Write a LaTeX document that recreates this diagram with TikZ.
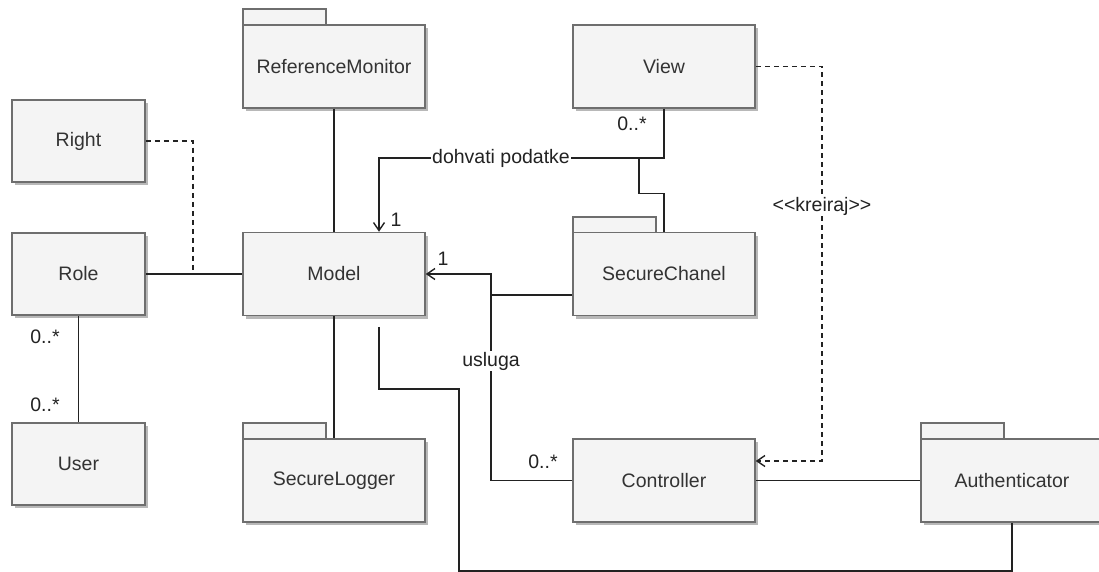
\documentclass[tikz,border=0pt]{standalone}
\usepackage{fontspec}
\setmainfont{Liberation Sans}
\usetikzlibrary{arrows.meta,shadows}
\definecolor{boxfill}{HTML}{F4F4F4}
\definecolor{boxline}{HTML}{6E6E6E}
\definecolor{txt}{HTML}{333333}
\definecolor{lnc}{HTML}{222222}
\begin{document}
\begin{tikzpicture}[x=1pt,y=-1pt,
  box/.style={draw=boxline, fill=boxfill, line width=1.5pt, text=txt,
    font=\fontsize{19.5}{22}\selectfont, inner sep=0pt,
    drop shadow={shadow xshift=3pt, shadow yshift=-3pt, fill=black!28, opacity=1}},
  smallbox/.style={box, minimum width=133pt, minimum height=82pt},
  bigbox/.style={box, minimum width=182pt, minimum height=83pt},
  tabst/.style={draw=boxline, fill=boxfill, line width=1.5pt},
  conn/.style={draw=lnc, line width=1.4pt},
  dep/.style={conn, dash pattern=on 5pt off 4pt},
  lbl/.style={font=\fontsize{19.5}{22}\selectfont, text=lnc, inner sep=1pt},
  tip/.style={-{Straight Barb[length=8pt,width=11pt,line width=1.4pt]}}]
\useasboundingbox (0,0) rectangle (1099,572);

% tabs (behind boxes)
\coordinate (rmtab) at (243,25);
\coordinate (sltab) at (243,439);
\coordinate (sctab) at (573,233);
\coordinate (autab) at (921,439);
\foreach \c in {rmtab,sltab,sctab,autab}
  \draw[tabst] (\c) rectangle ++(83,-16);

% boxes
\node[smallbox] (right) at (78.5,141) {Right};
\node[smallbox] (role) at (78.5,274) {Role};
\node[smallbox] (user) at (78.5,464) {User};
\node[bigbox] (rm) at (334,66.5) {ReferenceMonitor};
\node[bigbox] (model) at (334,274) {Model};
\node[bigbox] (sl) at (334,480.5) {SecureLogger};
\node[bigbox] (view) at (664,66.5) {View};
\node[bigbox] (sc) at (664,274) {SecureChanel};
\node[bigbox] (ctrl) at (664,480.5) {Controller};
\node[bigbox] (auth) at (1012,480.5) {Authenticator};

% connectors
\coordinate (j1) at (193,274);
\draw[dep] (right.east) -| (j1);
\draw[conn] (role) -- (model);
\draw[conn] (rm) -- (model);
\draw[conn] (model) -- (sl);
\draw[conn] (role) -- (user);
\node[lbl] (m1a) at (45,337) {0..*};
\node[lbl] (m1b) at (45,405) {0..*};

\coordinate (d1) at (379,158);
\coordinate (d2) at (639,158);
\draw[conn,tip] (view.south) |- (d1) -- (d1 |- model.north);
\draw[conn] (sc.north) -- ++(0,-38) -| (d2);
\node[lbl, fill=white] (dlab) at (501,158) {dohvati podatke};
\node[lbl] (m2a) at (632,124) {0..*};
\node[lbl] (m2b) at (396,220) {1};

\coordinate (u1) at (491,274);
\draw[conn,tip] (ctrl.west) -| (u1) -- (model.east);
\draw[conn] ([yshift=-21pt]sc.west) -- ++(-82,0);
\node[lbl, fill=white] (ulab) at (491,361) {usluga};
\node[lbl] (m3a) at (443,259) {1};
\node[lbl] (m3b) at (543,462) {0..*};

\coordinate (k1) at (822,461);
\draw[dep,tip] (view.east) -| (k1) -- ([yshift=19.5pt]ctrl.east);
\node[lbl, fill=white] (klab) at (822,206) {<\kern0pt<kreiraj>\kern0pt>};

\draw[conn] (ctrl) -- (auth);

\coordinate (a1) at (459,389);
\coordinate (a2) at (1012,571);
\draw[conn] ([xshift=45pt,yshift=-10.5pt]model.south) |- (a1) |- (a2) -- (auth.south);
\end{tikzpicture}
\end{document}
